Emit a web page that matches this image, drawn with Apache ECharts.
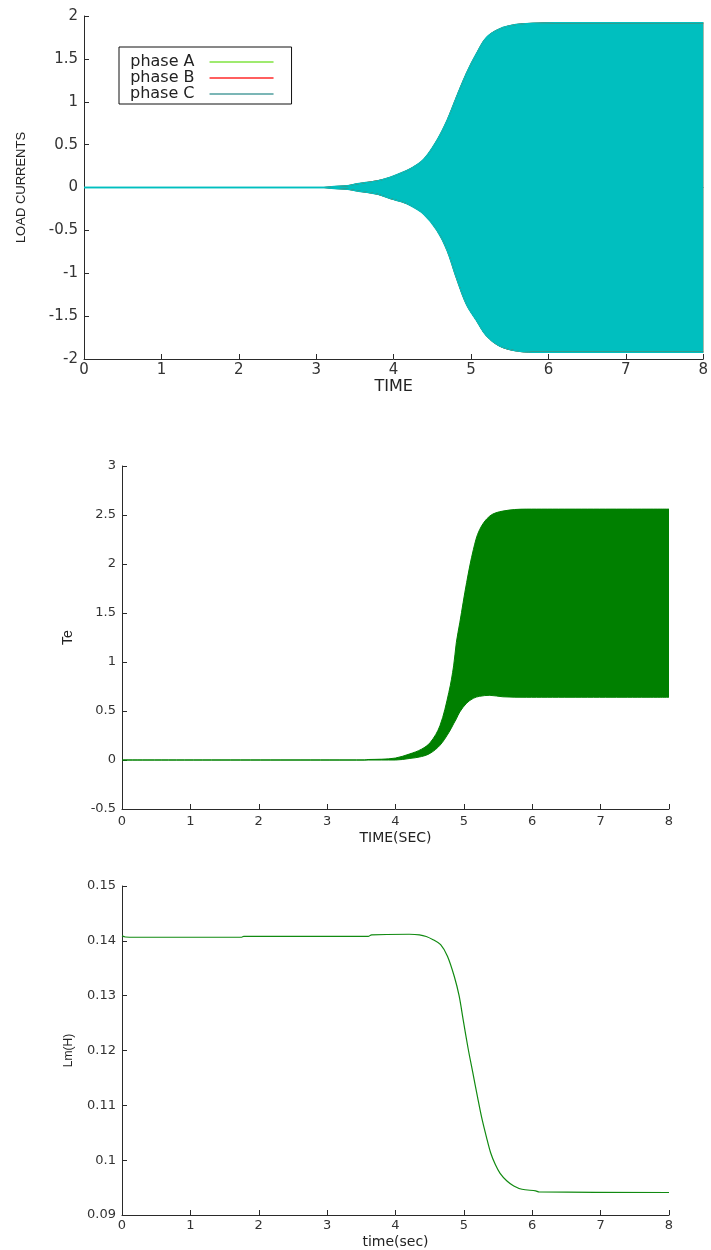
<!DOCTYPE html>
<html>
<head>
<meta charset="utf-8">
<script src="https://cdn.jsdelivr.net/npm/echarts@6/dist/echarts.min.js"></script>
<style>
html,body{margin:0;padding:0;background:#fff;}
#chart{width:711px;height:1250px;}
</style>
</head>
<body>
<div id="chart"></div>
<script>
// ---------- Panel 1: load currents (envelope of the dense 3-phase oscillation) ----------
const tCur     = [0, 3.1, 3.2, 3.4, 3.53, 3.8, 3.96, 4.1, 4.22, 4.39, 4.56, 4.69, 4.81, 4.94, 5.07, 5.2, 5.37, 5.58, 5.8, 6.09, 8.0];
const curUpper = [0, 0, 0.01, 0.02, 0.043, 0.08, 0.12, 0.17, 0.22, 0.33, 0.55, 0.78, 1.05, 1.33, 1.56, 1.75, 1.85, 1.90, 1.915, 1.92, 1.92];
const curLower = [0, 0, -0.01, -0.02, -0.04, -0.08, -0.13, -0.165, -0.21, -0.31, -0.50, -0.73, -1.05, -1.36, -1.55, -1.73, -1.85, -1.905, -1.92, -1.92, -1.92];
const phaseNames = ['phase A', 'phase B', 'phase C'];

// ---------- Panel 2: electromagnetic torque Te (envelope) ----------
const tTe     = [0, 3.55, 3.6, 3.8, 4.0, 4.2, 4.38, 4.51, 4.65, 4.78, 4.85, 4.89, 4.94, 5.04, 5.14, 5.23, 5.38, 5.57, 5.92, 8.0];
const teUpper = [0, 0, 0.005, 0.008, 0.02, 0.06, 0.11, 0.18, 0.35, 0.69, 0.96, 1.20, 1.40, 1.81, 2.15, 2.35, 2.49, 2.54, 2.56, 2.56];
const teLower = [0, 0, 0, 0, 0, 0.015, 0.035, 0.07, 0.15, 0.28, 0.37, 0.42, 0.49, 0.58, 0.63, 0.65, 0.66, 0.645, 0.64, 0.64];

// ---------- Panel 3: magnetizing inductance Lm ----------
const tLm = [0, 0.05, 0.2, 1.75, 1.78, 3.6, 3.65, 4.2, 4.35, 4.45, 4.55, 4.66, 4.76, 4.86, 4.93, 4.99, 5.06, 5.13, 5.2, 5.26, 5.33, 5.39, 5.46, 5.53, 5.63, 5.73, 5.85, 6.05, 6.1, 8.0];
const lmVal = [0.1409, 0.1407, 0.14065, 0.14065, 0.1408, 0.1408, 0.1411, 0.1412, 0.1411, 0.1408, 0.1402, 0.1393, 0.1372, 0.1335, 0.1300, 0.1256, 0.1205, 0.1160, 0.1115, 0.1078, 0.1042, 0.1014, 0.0992, 0.0976, 0.0962, 0.0953, 0.0947, 0.0944, 0.0942, 0.0941];

// ---------- Tick values ----------
const xTicks = {min: 0, max: 8, interval: 1};
const yCurTicks = {min: -2, max: 2, interval: 0.5};
const yTeTicks = {min: -0.5, max: 3, interval: 0.5};
const yLmTicks = {min: 0.09, max: 0.15, interval: 0.01};

const chart = echarts.init(document.getElementById('chart'), null, {renderer: 'canvas'});

const AX = '#2a2a2a';
const TICKFONT = 'DejaVu Sans';

function envLine(name, t, v, xi, color, lw, areaColor, origin) {
  const s = {
    name: name, type: 'line', xAxisIndex: xi, yAxisIndex: xi,
    data: t.map((x, i) => [x, v[i]]),
    smooth: 0.35,
    showSymbol: false, symbol: 'none',
    lineStyle: {color: color, width: lw},
    itemStyle: {color: color},
    emphasis: {disabled: true}
  };
  if (areaColor) s.areaStyle = {color: areaColor, opacity: 1, origin: origin};
  return s;
}

function xAxisCfg(gi, name, nameGap, fs, margin) {
  return {
    gridIndex: gi, type: 'value', min: xTicks.min, max: xTicks.max, interval: xTicks.interval,
    name: name, nameLocation: 'middle', nameGap: nameGap,
    nameTextStyle: {fontFamily: TICKFONT, fontSize: fs + 1, color: '#222'},
    axisLine: {show: true, onZero: false, lineStyle: {color: AX, width: 1}},
    axisTick: {show: true, inside: true, length: 5, lineStyle: {color: AX}},
    axisLabel: {fontFamily: TICKFONT, fontSize: fs, color: '#333', margin: margin},
    splitLine: {show: false}
  };
}
function yAxisCfg(gi, ticks, name, nameGap, fs, nameFs, fmt) {
  return {
    gridIndex: gi, type: 'value', min: ticks.min, max: ticks.max, interval: ticks.interval,
    name: name, nameLocation: 'middle', nameGap: nameGap, nameRotate: 90,
    nameTextStyle: {fontFamily: 'Liberation Sans, Arial', fontSize: nameFs, color: '#222'},
    axisLine: {show: true, onZero: false, lineStyle: {color: AX, width: 1}},
    axisTick: {show: true, inside: true, length: 5, lineStyle: {color: AX}},
    axisLabel: {fontFamily: TICKFONT, fontSize: fs, color: '#333', margin: 6, formatter: fmt},
    splitLine: {show: false}
  };
}

const phaseFill = ['#1b8c1b', '#ff2020', '#00bfbf'];
const seriesList = [];
for (let p = 0; p < 3; p++) {
  const lw = p === 2 ? 1.5 : 1;
  // upper envelope filled down (slightly past) zero, lower envelope filled up (slightly past) zero
  seriesList.push(envLine(phaseNames[p], tCur, curUpper, 0, phaseFill[p], lw, phaseFill[p], -0.006));
  seriesList.push(envLine(phaseNames[p], tCur, curLower, 0, phaseFill[p], lw, phaseFill[p], 0.006));
}
// Te band: upper envelope filled down to zero, region below the lower envelope left blank
seriesList.push(envLine('Te', tTe, teUpper, 1, '#008000', 1, '#008000', 0));
seriesList.push(envLine('Te', tTe, teLower, 1, '#008000', 1, '#ffffff', 0));
seriesList.push({
  name: 'Lm', type: 'line', xAxisIndex: 2, yAxisIndex: 2,
  data: tLm.map((x, i) => [x, lmVal[i]]),
  showSymbol: false, symbol: 'none', smooth: 0.3,
  lineStyle: {color: '#118a11', width: 1.2}
});

const option = {
  animation: false,
  backgroundColor: '#fff',
  grid: [
    {left: 84, top: 16, width: 625, height: 343},
    {left: 122, top: 466, width: 547, height: 343},
    {left: 122, top: 886, width: 547, height: 330}
  ],
  legend: {
    left: 119, top: 47,
    orient: 'vertical', align: 'right',
    icon: 'rect', itemWidth: 64, itemHeight: 1.5, itemGap: 0,
    padding: [7, 18, 2, 11],
    borderColor: '#111', borderWidth: 1,
    textStyle: {fontFamily: TICKFONT, fontSize: 16, color: '#222', lineHeight: 16, padding: [0, 10, 0, 0]},
    data: [
      {name: phaseNames[0], itemStyle: {color: '#7fe33f'}},
      {name: phaseNames[1], itemStyle: {color: '#ff2a2a'}},
      {name: phaseNames[2], itemStyle: {color: '#4f9e9e'}}
    ]
  },
  xAxis: [
    xAxisCfg(0, 'TIME', 20, 15, 4),
    xAxisCfg(1, 'TIME(SEC)', 22, 13, 6),
    xAxisCfg(2, 'time(sec)', 20, 13, 4)
  ],
  yAxis: [
    yAxisCfg(0, yCurTicks, 'LOAD CURRENTS', 56, 15, 13),
    yAxisCfg(1, yTeTicks, 'Te', 47, 13, 14),
    yAxisCfg(2, yLmTicks, 'Lm(H)', 47, 13, 12, v => String(parseFloat(v.toFixed(3))))
  ],
  series: seriesList
};
chart.setOption(option);
</script>
</body>
</html>
